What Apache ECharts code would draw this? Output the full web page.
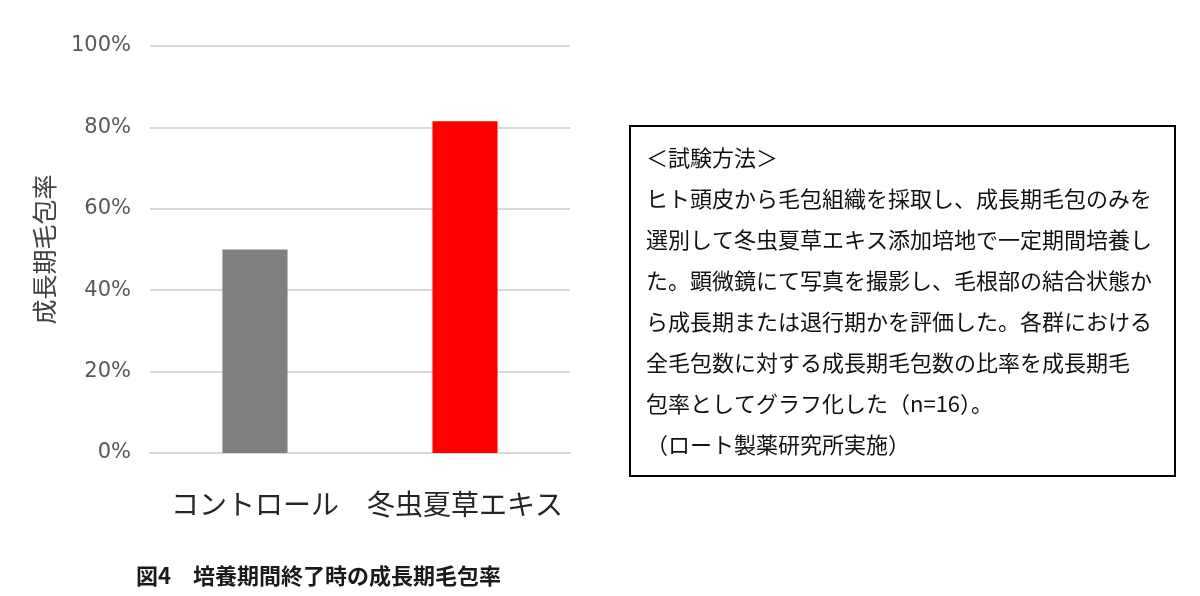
<!DOCTYPE html>
<html>
<head>
<meta charset="utf-8">
<script src="https://cdn.jsdelivr.net/npm/echarts@6/dist/echarts.min.js"></script>
<style>
  html, body { margin: 0; padding: 0; background: #fff; }
  #chart { width: 1200px; height: 596px; }
</style>
</head>
<body>
<div id="chart"></div>
<script>
// データ
var categories = ["コントロール", "冬虫夏草エキス"];
var values = [50, 81.5];
var barColors = ["#7f7e80", "#ff0000"];
var yTicks = [0, 20, 40, 60, 80, 100];
var methodLines = [
  "＜試験方法＞",
  "ヒト頭皮から毛包組織を採取し、成長期毛包のみを",
  "選別して冬虫夏草エキス添加培地で一定期間培養し",
  "た。顕微鏡にて写真を撮影し、毛根部の結合状態か",
  "ら成長期または退行期かを評価した。各群における",
  "全毛包数に対する成長期毛包数の比率を成長期毛",
  "包率としてグラフ化した（n=16）。",
  "（ロート製薬研究所実施）"
];
var caption = "図4　培養期間終了時の成長期毛包率";

(function () {
  var myChart = echarts.init(document.getElementById("chart"));
  var font = '"Noto Sans CJK JP", "Noto Sans", sans-serif';

  // 説明ボックス
  var graphics = [{
    type: "rect",
    shape: { x: 630, y: 126, width: 545, height: 350 },
    style: { fill: "#fff", stroke: "#000", lineWidth: 2 }
  }];
  methodLines.forEach(function (line, i) {
    graphics.push({
      type: "text",
      x: 646,
      y: 158 + i * 41,
      style: {
        text: line,
        fill: "#111",
        font: "22px " + font,
        textVerticalAlign: "middle"
      }
    });
  });

  var option = {
    textStyle: { fontFamily: font },
    title: {
      text: caption,
      left: 131,
      top: 560,
      textStyle: { fontSize: 22, fontWeight: "bold", color: "#1a1a1a", fontFamily: font }
    },
    grid: {
      left: 150,
      right: 630,
      top: 46,
      bottom: 143
    },
    xAxis: {
      type: "category",
      data: categories,
      axisTick: { show: false },
      axisLine: { lineStyle: { color: "#d9d9d9", width: 2 } },
      axisLabel: {
        color: "#262626",
        fontSize: 28,
        margin: 37,
        interval: 0
      }
    },
    yAxis: {
      type: "value",
      min: yTicks[0],
      max: yTicks[yTicks.length - 1],
      interval: 20,
      name: "成長期毛包率",
      nameLocation: "middle",
      nameGap: 93,
      nameTextStyle: { fontSize: 25, color: "#404040" },
      axisLine: { show: false },
      axisTick: { show: false },
      axisLabel: {
        color: "#595959",
        fontSize: 21,
        fontFamily: '"DejaVu Sans", sans-serif',
        margin: 19,
        formatter: "{value}%"
      },
      splitLine: { lineStyle: { color: "#d9d9d9", width: 2 } }
    },
    series: [{
      type: "bar",
      barWidth: "31%",
      data: values.map(function (v, i) {
        return { value: v, itemStyle: { color: barColors[i] } };
      })
    }],
    graphic: graphics
  };

  myChart.setOption(option);
  window.addEventListener("resize", function () {
    myChart.resize();
  });
})();
</script>
</body>
</html>
